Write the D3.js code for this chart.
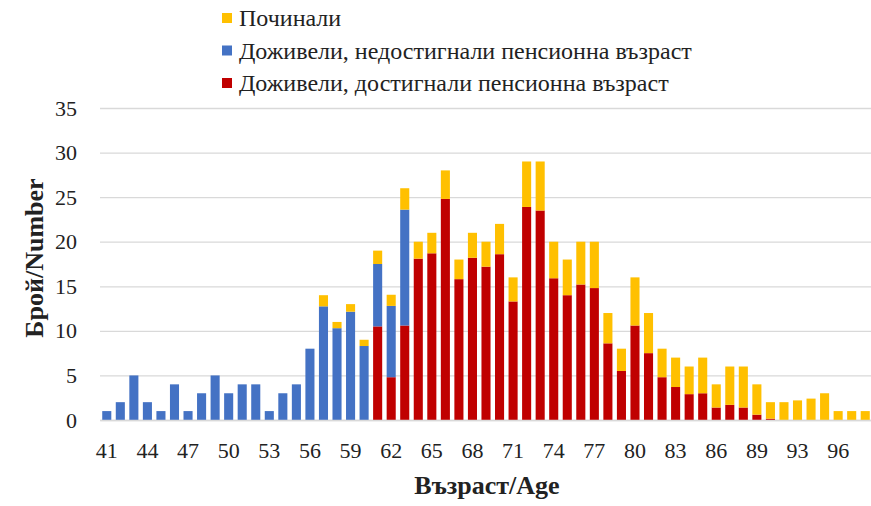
<!DOCTYPE html>
<html>
<head>
<meta charset="utf-8">
<script src="https://cdn.jsdelivr.net/npm/d3@7"></script>
<style>
  body { margin: 0; background: #fff; }
  svg text { font-family: "Liberation Serif", "Times New Roman", serif; fill: #222; }
</style>
</head>
<body>
<svg id="chart" width="871" height="506"></svg>
<script>
// ages (92 is absent in the source)
const ages = [41, 42, 43, 44, 45, 46, 47, 48, 49, 50, 51, 52, 53, 54, 55, 56, 57, 58, 59, 60,
  61, 62, 63, 64, 65, 66, 67, 68, 69, 70, 71, 72, 73, 74, 75, 76, 77, 78, 79, 80,
  81, 82, 83, 84, 85, 86, 87, 88, 89, 90, 91, 93, 94, 95, 96, 97, 98];

// Доживели, достигнали пенсионна възраст
const reachedPension = [0, 0, 0, 0, 0, 0, 0, 0, 0, 0, 0, 0, 0, 0, 0, 0, 0, 0, 0, 0,
  10.5, 4.8, 10.6, 18.1, 18.7, 24.8, 15.8, 18.2, 17.2, 18.6, 13.3, 23.9, 23.5, 15.9, 14.0, 15.2, 14.8, 8.6, 5.5, 10.6,
  7.5, 4.8, 3.7, 2.9, 3.0, 1.4, 1.7, 1.4, 0.6, 0.15, 0, 0, 0, 0, 0, 0, 0];

// Доживели, недостигнали пенсионна възраст
const notReachedPension = [1, 2, 5, 2, 1, 4, 1, 3, 5, 3, 4, 4, 1, 3, 4, 8, 12.75, 10.3, 12.15, 8.3,
  7.0, 8.0, 13.0, 0, 0, 0, 0, 0, 0, 0, 0, 0, 0, 0, 0, 0, 0, 0, 0, 0,
  0, 0, 0, 0, 0, 0, 0, 0, 0, 0, 0, 0, 0, 0, 0, 0, 0];

// Починали
const died = [0, 0, 0, 0, 0, 0, 0, 0, 0, 0, 0, 0, 0, 0, 0, 0, 1.25, 0.7, 0.85, 0.7,
  1.5, 1.25, 2.4, 1.9, 2.3, 3.2, 2.2, 2.8, 2.8, 3.4, 2.7, 5.1, 5.5, 4.1, 4.0, 4.8, 5.2, 3.4, 2.5, 5.4,
  4.5, 3.2, 3.3, 3.1, 4.0, 2.6, 4.3, 4.6, 3.4, 1.85, 2, 2.2, 2.4, 3, 1, 1, 1];

const yTicks = [0, 5, 10, 15, 20, 25, 30, 35];

const series = [
  { key: "reached", name: "Доживели, достигнали пенсионна възраст", color: "#C00000", values: reachedPension },
  { key: "notReached", name: "Доживели, недостигнали пенсионна възраст", color: "#4472C4", values: notReachedPension },
  { key: "died", name: "Починали", color: "#FFC000", values: died }
];

const rows = ages.map((age, i) => {
  const r = { age };
  series.forEach((s) => { r[s.key] = s.values[i]; });
  return r;
});

const svg = d3.select("#chart");
const margin = { top: 108, right: -1, bottom: 86, left: 100 };
const width = 871 - margin.left - margin.right;
const height = 506 - margin.top - margin.bottom;

const g = svg.append("g").attr("transform", `translate(${margin.left},${margin.top})`);

const x = d3.scaleBand()
  .domain(ages)
  .range([0, width])
  .paddingInner(0.33)
  .paddingOuter(0.165);

const y = d3.scaleLinear().domain([0, 35]).range([height, 0]);

// grid
g.append("g")
  .attr("class", "grid")
  .call(d3.axisLeft(y).tickValues(yTicks).tickSize(-width).tickFormat(""))
  .call((sel) => sel.select(".domain").remove())
  .selectAll("line")
  .style("stroke", "#d9d9d9")
  .style("stroke-width", 1.3);

// y labels
g.append("g")
  .call(d3.axisLeft(y).tickValues(yTicks).tickSize(0).tickPadding(23))
  .call((sel) => sel.select(".domain").remove())
  .selectAll("text")
  .style("font-size", "22px")
  .style("font-family", "'Liberation Serif', 'Times New Roman', serif")
  .style("fill", "#222");

// stacked bars
const stacked = d3.stack().keys(series.map((s) => s.key))(rows);

g.selectAll(".layer")
  .data(stacked)
  .join("g")
  .attr("class", "layer")
  .attr("fill", (d, i) => series[i].color)
  .selectAll("rect")
  .data((d) => d)
  .join("rect")
  .attr("x", (d) => x(d.data.age))
  .attr("y", (d) => y(d[1]))
  .attr("width", x.bandwidth())
  .attr("height", (d) => Math.max(0, y(d[0]) - y(d[1])));

// x axis
const xAxis = g.append("g")
  .attr("transform", `translate(0,${height})`)
  .call(d3.axisBottom(x)
    .tickSize(0)
    .tickPadding(22)
    .tickFormat((d, i) => (i % 3 === 0 ? d : "")));
xAxis.select(".domain").style("stroke", "#d9d9d9").style("stroke-width", 1.3);
xAxis.selectAll("text")
  .style("font-size", "22px")
  .style("font-family", "'Liberation Serif', 'Times New Roman', serif")
  .style("fill", "#222");

// axis titles
svg.append("text")
  .attr("transform", `translate(43,${margin.top + height / 2 - 6}) rotate(-90)`)
  .attr("text-anchor", "middle")
  .style("font-size", "26px")
  .style("font-weight", "bold")
  .text("Брой/Number");

svg.append("text")
  .attr("x", 487)
  .attr("y", 494)
  .attr("text-anchor", "middle")
  .style("font-size", "26px")
  .style("font-weight", "bold")
  .text("Възраст/Age");

// legend (top of stack first)
const legend = svg.append("g").attr("transform", "translate(222,18)");
const legendItems = series.slice().reverse();
legendItems.forEach((s, i) => {
  const row = legend.append("g").attr("transform", `translate(0,${i * 32.5})`);
  row.append("rect").attr("x", 0).attr("y", -5).attr("width", 10).attr("height", 10).attr("fill", s.color);
  row.append("text")
    .attr("x", 17)
    .attr("y", 0)
    .attr("dy", "0.35em")
    .style("font-size", "24px")
    .text(s.name);
});
</script>
</body>
</html>
